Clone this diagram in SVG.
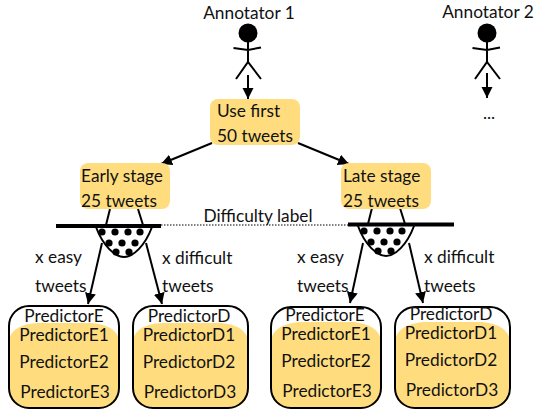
<svg xmlns="http://www.w3.org/2000/svg" width="540" height="418" viewBox="0 0 540 418">
<style>
text{font-family:"Lato","Open Sans","Liberation Sans",sans-serif;font-size:17.3px;fill:#111}
.fill{fill:#ffdd7f}
.frame{fill:none;stroke:#000;stroke-width:2}
.ln{stroke:#000;stroke-width:2;fill:none}
.bar{stroke:#000;stroke-width:4;fill:none}
.m{text-anchor:middle}
</style>
<defs>
<marker id="a" markerUnits="userSpaceOnUse" markerWidth="11" markerHeight="12" refX="11" refY="5.5" orient="auto"><path d="M0 0L11 5.5L0 11Z" fill="#000"/></marker>
<g id="person"><circle cx="0" cy="33" r="9.5" fill="#000"/><path class="ln" d="M-14.500 48L0 50L13 47.500M0 42V62M-12 79L0 62L13 79"/></g>
<g id="bowl"><path class="ln" d="M-28 0C-21 19-9 30 0 30C9 30 21 19 28 0"/><g fill="#000"><circle cx="-22" cy="5" r="3.600"/><circle cx="-9" cy="5" r="3.600"/><circle cx="4" cy="5" r="3.600"/><circle cx="16" cy="5" r="3.600"/><circle cx="-15" cy="16" r="3.600"/><circle cx="-2" cy="16" r="3.600"/><circle cx="11" cy="16" r="3.600"/><circle cx="-8" cy="25" r="3.600"/><circle cx="5" cy="25" r="3.600"/></g></g>
</defs>
<g id="connectors">
<path class="ln" d="M248 75V99" marker-end="url(#a)"/>
<path class="ln" d="M487 73V98" marker-end="url(#a)"/>
<path class="ln" d="M212 143L161 164" marker-end="url(#a)"/>
<path class="ln" d="M298 143L349 164" marker-end="url(#a)"/>
<path class="ln" d="M110 209L106 225M138 209L143 225M372 208L368 224M400 208L405 224"/>
<path class="ln" d="M102 243L88 304" marker-end="url(#a)"/>
<path class="ln" d="M146 243L162 304" marker-end="url(#a)"/>
<path class="ln" d="M363 243L350 303" marker-end="url(#a)"/>
<path class="ln" d="M409 243L423 303" marker-end="url(#a)"/>
<path d="M161 225H348" stroke="#000" stroke-width="1" stroke-dasharray="1.500 1.500" fill="none"/>
<path class="bar" d="M56 226H161M348 224.500H454"/>
</g>
<g id="annotator1"><use href="#person" x="248"/><text x="249" y="19" class="m">Annotator 1</text></g>
<g id="annotator2"><use href="#person" x="487"/><text x="488" y="18" class="m">Annotator 2</text><text x="489" y="119" class="m">...</text></g>
<g id="use-first"><rect x="210" y="99" width="90" height="46" rx="8" class="fill"/><text x="217" y="117">Use first</text><text x="217" y="142">50 tweets</text></g>
<g id="early-stage"><rect x="80" y="163" width="90" height="46" rx="8" class="fill"/><text x="81" y="182">Early stage</text><text x="81" y="207">25 tweets</text></g>
<g id="late-stage"><rect x="341" y="163" width="90" height="46" rx="8" class="fill"/><text x="343" y="182">Late stage</text><text x="343" y="207">25 tweets</text></g>
<g id="difficulty-label"><text x="258" y="222" class="m">Difficulty label</text></g>
<g id="bowl-early"><use href="#bowl" x="124" y="227"/></g>
<g id="bowl-late"><use href="#bowl" x="386" y="226"/></g>
<g id="labels-early"><text x="35" y="263">x easy</text><text x="35" y="292">tweets</text><text x="162" y="264">x difficult</text><text x="162" y="292">tweets</text></g>
<g id="labels-late"><text x="297" y="263">x easy</text><text x="297" y="292">tweets</text><text x="424" y="263">x difficult</text><text x="424" y="292">tweets</text></g>
<g id="predictorE-early">
<path class="fill" d="M9 342C9 328 26 323 40 323H88C102 323 119 328 119 342V388Q119 408 99 408H29Q9 408 9 388Z"/>
<rect x="9" y="306" width="110" height="102" rx="20" class="frame"/>
<text x="64" y="322" class="m">PredictorE</text><text x="64" y="341" class="m">PredictorE1</text><text x="64" y="368" class="m">PredictorE2</text><text x="65" y="398" class="m">PredictorE3</text>
</g>
<g id="predictorD-early">
<path class="fill" d="M133 342C133 328 150 323 164 323H217C231 323 248 328 248 342V388Q248 408 228 408H153Q133 408 133 388Z"/>
<rect x="133" y="306" width="115" height="102" rx="20" class="frame"/>
<text x="189" y="322" class="m">PredictorD</text><text x="189" y="341" class="m">PredictorD1</text><text x="189" y="368" class="m">PredictorD2</text><text x="190" y="398" class="m">PredictorD3</text>
</g>
<g id="predictorE-late">
<path class="fill" d="M271 342C271 328 288 322 302 322H350C364 322 381 328 381 342V388Q381 408 361 408H291Q271 408 271 388Z"/>
<rect x="271" y="307" width="110" height="101" rx="20" class="frame"/>
<text x="325" y="321" class="m">PredictorE</text><text x="326" y="340" class="m">PredictorE1</text><text x="326" y="367" class="m">PredictorE2</text><text x="327" y="397" class="m">PredictorE3</text>
</g>
<g id="predictorD-late">
<path class="fill" d="M395 342C395 328 412 322 426 322H479C493 322 510 328 510 342V388Q510 408 490 408H415Q395 408 395 388Z"/>
<rect x="395" y="307" width="115" height="101" rx="20" class="frame"/>
<text x="451" y="320" class="m">PredictorD</text><text x="451" y="339" class="m">PredictorD1</text><text x="451" y="366" class="m">PredictorD2</text><text x="452" y="396" class="m">PredictorD3</text>
</g>
</svg>
